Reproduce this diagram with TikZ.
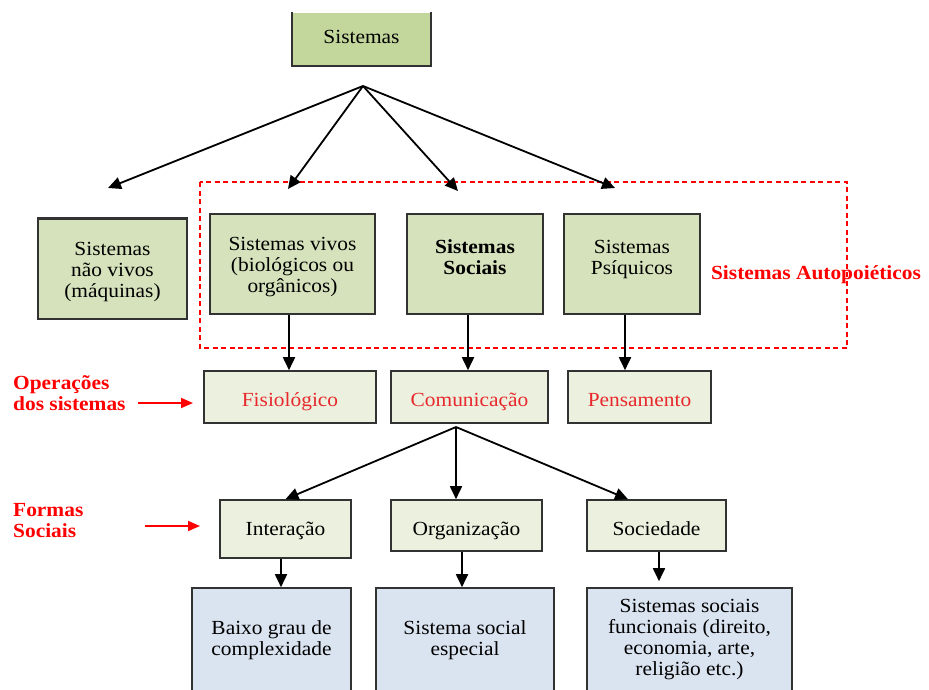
\documentclass[tikz,border=0pt]{standalone}
\usepackage{fontspec}
\setmainfont{Liberation Serif}[FakeStretch=1.07]
\usetikzlibrary{arrows.meta}
\definecolor{verdeA}{RGB}{195,214,155}
\definecolor{verdeB}{RGB}{214,226,188}
\definecolor{verdeC}{RGB}{235,241,222}
\definecolor{azul}{RGB}{218,227,240}
\definecolor{borda}{RGB}{50,50,50}
\definecolor{vermelho}{RGB}{232,40,45}
\tikzstyle{caixa}=[rectangle, draw=borda, line width=1.6pt, inner sep=0pt, align=center, font=\fontsize{20}{21}\selectfont]
\tikzstyle{negrito}=[font=\bfseries\fontsize{20}{21}\selectfont]
\tikzstyle{seta}=[every edge/.style={draw=black, line width=1.8pt, -{Triangle[length=13pt,width=12pt]}}]
\tikzstyle{setav}=[every edge/.style={draw=red, line width=1.8pt, -{Triangle[length=12pt,width=10pt]}}]
\tikzstyle{rotulo}=[text=red, inner sep=0pt, align=left, font=\bfseries\fontsize{20}{21}\selectfont]
\tikzstyle{tracejado}=[draw=red, line width=1.2pt, dash pattern=on 5pt off 3.5pt]
\newcommand{\caixa}{\node[caixa]}
\newcommand{\desce}{\rule{0pt}{20pt}}

\begin{document}
\begin{tikzpicture}[x=1pt, y=-1pt]
\useasboundingbox (0,0) rectangle (929,690);
\clip (0,0) rectangle (929,690);
\caixa[fill=verdeA, draw=none, minimum width=137pt, minimum height=52pt, text height=13pt, text depth=4pt] (sist) at (361.5,39) {Sistemas};
\draw[borda, line width=1.6pt] (sist.north west) |- (sist.south east) -- (sist.north east);

\caixa[fill=verdeB, minimum width=149pt, minimum height=100pt] (naoviv) at (112.5,269) {\desce Sistemas\\não vivos\\(máquinas)};
\draw[borda, line width=2.8pt] (naoviv.north west) -- (naoviv.north east);
\caixa[fill=verdeB, minimum width=165pt, minimum height=100pt] (vivos) at (292.5,264) {\desce Sistemas vivos\\(biológicos ou\\orgânicos)};
\caixa[fill=verdeB, negrito, minimum width=136pt, minimum height=100pt] (sociais) at (475,264) {\desce Sistemas\\Sociais\\\mbox{}};
\caixa[fill=verdeB, minimum width=136pt, minimum height=100pt] (psiq) at (632,264) {\desce Sistemas\\Psíquicos\\\mbox{}};

\draw[tracejado] (200,182) rectangle (847,348);
\node[rotulo] (auto) at (816,275) {Sistemas Autopoiéticos};

\caixa[fill=verdeC, text=vermelho, text height=18pt, text depth=0pt, minimum width=172pt, minimum height=52pt] (fisio) at (290,397) {Fisiológico};
\caixa[fill=verdeC, text=vermelho, text height=18pt, text depth=0pt, minimum width=157pt, minimum height=52pt] (comun) at (469.5,397) {Comunicação};
\caixa[fill=verdeC, text=vermelho, text height=18pt, text depth=0pt, minimum width=143pt, minimum height=52pt] (pens) at (639.5,397) {Pensamento};

\caixa[fill=verdeC, text height=14pt, text depth=2pt, minimum width=131pt, minimum height=58pt] (inter) at (285.5,529) {Interação};
\caixa[fill=verdeC, text height=19pt, text depth=0pt, minimum width=151pt, minimum height=51pt] (org) at (466.5,525.5) {Organização};
\caixa[fill=verdeC, text height=19pt, text depth=0pt, minimum width=139pt, minimum height=51pt] (soc) at (656.5,525.5) {Sociedade};

\caixa[fill=azul, minimum width=159pt, minimum height=104pt] (baixo) at (271.5,640) {Baixo grau de\\complexidade};
\caixa[fill=azul, minimum width=178pt, minimum height=104pt] (esp) at (465,640) {Sistema social\\especial};
\caixa[fill=azul, minimum width=205pt, minimum height=104pt] (func) at (689.5,640) {Sistemas sociais\\funcionais (direito,\\economia, arte,\\religião etc.)};

\node[rotulo, anchor=west] (oper) at (13,393) {Operações\\dos sistemas};
\node[rotulo, anchor=west] (formas) at (13,521) {Formas\\Sociais};

\coordinate (topo) at (363,86);
\coordinate (pnv) at (108,188);
\coordinate (pviv) at (288,189);
\coordinate (psoc) at (458,191);
\coordinate (ppsi) at (615,188);
\coordinate (lviv) at ([xshift=-3.5pt]vivos.south);
\coordinate (lsoc) at ([xshift=-7pt]sociais.south);
\coordinate (lpsi) at ([xshift=-7pt]psiq.south);
\coordinate (meio) at (456,427);
\coordinate (li) at ([xshift=-4.5pt]inter.south);
\coordinate (lo) at ([xshift=-4.5pt]org.south);
\coordinate (ls) at ([xshift=2.5pt]soc.south);
\coordinate (o1) at (138,403);
\coordinate (o2) at (193,403);
\coordinate (f1) at (145,526);
\coordinate (f2) at (200,526);

\path[seta]
(topo) edge (pnv) edge (pviv) edge (psoc) edge (ppsi)
(lviv) edge (lviv |- fisio.north)
(lsoc) edge (lsoc |- comun.north)
(lpsi) edge (lpsi |- pens.north)
(meio) edge (inter.north) edge (meio |- org.north) edge ([xshift=-28.5pt]soc.north)
(li) edge (li |- baixo.north)
(lo) edge (lo |- esp.north)
(ls) edge[shorten >=6pt] (ls |- func.north)
;
\path[setav] (o1) edge (o2) (f1) edge (f2);
\end{tikzpicture}
\end{document}
